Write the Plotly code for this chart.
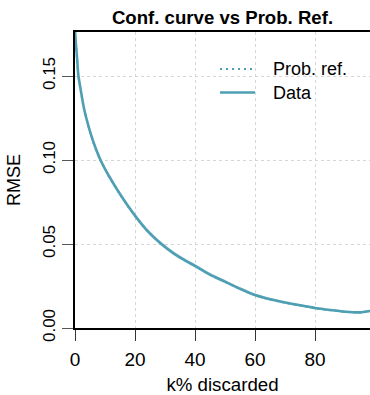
import plotly.graph_objects as go

# ---- data ----
k_pct = [0, 0.25, 0.7, 1.1, 2.0, 3.0, 4.4, 6.1, 8.5, 11.1, 15, 19.4, 23.9, 28.8,
         33, 36.7, 40, 45, 50, 55, 60, 65, 70, 75, 80, 85, 90, 95, 98.3]
rmse_data = [0.177, 0.1704, 0.1605, 0.1506, 0.1407, 0.1307, 0.1208, 0.1109, 0.1000,
             0.0911, 0.0797, 0.0683, 0.0583, 0.0500, 0.0443, 0.0402, 0.0370, 0.0318,
             0.0276, 0.0234, 0.0196, 0.0171, 0.0152, 0.0135, 0.0119, 0.0107, 0.0097,
             0.0093, 0.0101]
rmse_ref = [0.177, 0.1700, 0.1600, 0.1502, 0.1404, 0.1304, 0.1206, 0.1106, 0.0998,
            0.0909, 0.0795, 0.0681, 0.0581, 0.0499, 0.0442, 0.0401, 0.0369, 0.0317,
            0.0275, 0.0233, 0.0195, 0.0170, 0.0151, 0.0134, 0.0118, 0.0106, 0.0096,
            0.0093, 0.0100]
band_half = [0.0015, 0.0015, 0.0015, 0.0015, 0.0015, 0.0015, 0.0015, 0.0015, 0.0015,
             0.0015, 0.0015, 0.0015, 0.0014, 0.0013, 0.0012, 0.0012, 0.0011, 0.0011,
             0.0010, 0.0010, 0.0009, 0.0009, 0.0008, 0.0008, 0.0008, 0.0007, 0.0007,
             0.0007, 0.0007]
x_ticks = [0, 20, 40, 60, 80]
y_ticks = [0.00, 0.05, 0.10, 0.15]
y_tick_text = ["0.00", "0.05", "0.10", "0.15"]

title = "<b>Conf. curve vs Prob. Ref.</b>"
x_title = "k% discarded"
y_title = "RMSE"
legend_names = ["Prob. ref.", "Data"]

# ---- style ----
LINE = "#4e9fb3"
BAND = "rgba(78,159,179,0.28)"
FONT = "Liberation Sans, Arial, sans-serif"

band_lo = [v - h for v, h in zip(rmse_data, band_half)]
band_hi = [v + h for v, h in zip(rmse_data, band_half)]

spl = dict(shape="spline", smoothing=0.5)

fig = go.Figure()
fig.add_trace(go.Scatter(x=k_pct, y=band_hi, mode="lines", line=dict(width=0, **spl),
                         showlegend=False, hoverinfo="skip"))
fig.add_trace(go.Scatter(x=k_pct, y=band_lo, mode="lines", line=dict(width=0, **spl),
                         fill="tonexty", fillcolor=BAND, showlegend=False, hoverinfo="skip"))
fig.add_trace(go.Scatter(x=k_pct, y=rmse_ref, mode="lines", name=legend_names[0],
                         line=dict(color=LINE, width=2, dash="2px,4px", **spl),
                         showlegend=False))
fig.add_trace(go.Scatter(x=k_pct, y=rmse_data, mode="lines", name=legend_names[1],
                         line=dict(color=LINE, width=2.6, **spl), showlegend=False))

# manual legend (paper coords)
W, H = 370, 395
L, R, T, B = 75, 0, 32, 67
pw, ph = W - L - R, H - T - B

def px2paper(x, y):
    return (x - L) / pw, (H - B - y) / ph

for name, dash, wd, y, x1 in [(legend_names[0], "2px,4px", 2, 69, 252),
                              (legend_names[1], "solid", 2.6, 92.5, 255)]:
    xa, ya = px2paper(220, y)
    xb, _ = px2paper(x1, y)
    fig.add_shape(type="line", xref="paper", yref="paper", x0=xa, x1=xb, y0=ya, y1=ya,
                  line=dict(color=LINE, width=wd, dash=dash))
    xt, yt = px2paper(271, y + 0.5)
    fig.add_annotation(xref="paper", yref="paper", x=xt, y=yt, text=name, showarrow=False,
                       xanchor="left", yanchor="middle",
                       font=dict(family=FONT, size=18, color="#000"))

fig.update_layout(
    width=W, height=H,
    margin=dict(l=L, r=R, t=T, b=B, pad=0),
    paper_bgcolor="white", plot_bgcolor="white",
    font=dict(family=FONT, color="#000"),
    title=dict(text=title, x=(L + pw / 2) / W, xanchor="center", y=1 - 17 / H,
               yanchor="middle", font=dict(family=FONT, size=18.6, color="#000")),
    showlegend=False,
)
fig.update_xaxes(
    range=[0, 98.3], tickvals=x_ticks, ticks="outside", ticklen=11, tickwidth=1,
    tickcolor="#333", showline=True, linecolor="#000", linewidth=1.5, mirror=True,
    showgrid=True, gridcolor="#d6d6d6", griddash="dot", gridwidth=1, zeroline=False,
    tickfont=dict(size=19), ticklabelstandoff=2,
    title=dict(text=x_title, font=dict(size=18.7), standoff=13),
)
fig.update_yaxes(
    range=[0, 0.1762], tickvals=y_ticks, ticktext=y_tick_text, tickangle=-90,
    ticks="outside", ticklen=11, tickwidth=1, tickcolor="#555", showline=True,
    linecolor="#000", linewidth=1.5, showgrid=True, gridcolor="#d6d6d6", griddash="dot",
    gridwidth=1, zeroline=False, tickfont=dict(size=17), ticklabelstandoff=0,
    title=dict(text=y_title, font=dict(size=18), standoff=15),
)

fig.write_html("out.html")
